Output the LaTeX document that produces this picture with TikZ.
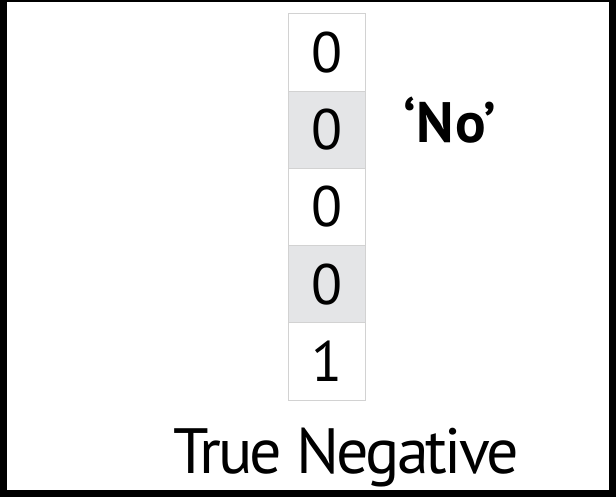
\documentclass[tikz,border=0pt]{standalone}
\usepackage{fontspec}
\setmainfont{PT Sans}
\usetikzlibrary{positioning}
\definecolor{cellgrey}{HTML}{E4E5E7}
\definecolor{cellline}{HTML}{D2D2D2}
\tikzset{
  cell/.style={draw=cellline, line width=1pt, minimum width=77pt,
    minimum height=77.2pt, inner sep=0pt, font=\fontsize{57}{57}\selectfont},
  light/.style={cell, fill=white},
  dark/.style={cell, fill=cellgrey}
}
\begin{document}
\begin{tikzpicture}[x=1pt, y=-1pt]
	% frame
	\fill[black] (0,0) rectangle (616,497);
	\fill[white] (7,2.5) rectangle (609,490);
	% column of answers
	\node[light] (c1) at (327,52.6) {0};
	\node[dark, below=-1pt of c1] (c2) {0};
	\node[light, below=-1pt of c2] (c3) {0};
	\node[dark, below=-1pt of c3] (c4) {0};
	\node[light, below=-1pt of c4] (c5) {1};
	% labels
	\node[anchor=base west, inner sep=0pt, font=\fontsize{57}{57}\selectfont\bfseries\addfontfeature{LetterSpace=2}] (no) at (403,143) {‘No’};
	\node[anchor=base, inner sep=0pt, font=\fontsize{64}{64}\selectfont\addfontfeature{LetterSpace=-4.5}] (tn) at (346,473) {True Negative};
\end{tikzpicture}
\end{document}
